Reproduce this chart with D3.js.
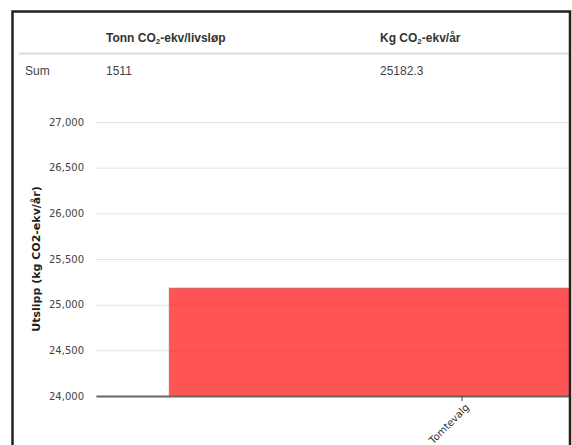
<!DOCTYPE html>
<html>
<head>
<meta charset="utf-8">
<title>Utslipp</title>
<style>
body { margin: 0; background: #fff; }
.grid .domain { stroke: none; }
.grid .tick line { stroke: #e3e3e3; stroke-width: 1px; }
.grid .tick text { fill: #444; font-family: "DejaVu Sans", Verdana, sans-serif; font-size: 10px; }
.axis--x .domain { stroke: #666; stroke-width: 2px; }
.axis--x .tick line { stroke: #444; }
.axis--x .tick text { fill: #333; font-family: "DejaVu Sans", Verdana, sans-serif; font-size: 10px; }
.tbl { font-family: "Liberation Sans", Arial, sans-serif; font-size: 12px; }
</style>
</head>
<body>
<script src="https://d3js.org/d3.v7.min.js"></script>
<script>

// Data
var categories = ["Tomtevalg"];
var values = [25182.3];
var yTicks = [24000, 24500, 25000, 25500, 26000, 26500, 27000];
var yTitle = "Utslipp (kg CO2-ekv/år)";

// table: header cells split around the subscript
var tableHeaders = [["Tonn CO", "2", "-ekv/livsløp"], ["Kg CO", "2", "-ekv/år"]];
var tableRowLabel = "Sum";
var tableRow = ["1511", "25182.3"];

var W = 572, H = 445;

var svg = d3.select("body").append("svg")
    .attr("width", W)
    .attr("height", H);

svg.append("defs").append("clipPath")
    .attr("id", "inner")
    .append("rect")
    .attr("x", 13).attr("y", 12)
    .attr("width", 556).attr("height", H - 12);

var inner = svg.append("g").attr("clip-path", "url(#inner)");

// Table
var colX = [106, 380];
var tbl = inner.append("g").attr("class", "tbl");

tableHeaders.forEach(function(h, i) {
    var t = tbl.append("text")
        .attr("x", colX[i]).attr("y", 42)
        .attr("fill", "#333")
        .attr("font-weight", "bold");
    t.append("tspan").text(h[0]);
    t.append("tspan").attr("font-size", "8px").attr("dy", 2).text(h[1]);
    t.append("tspan").attr("dy", -2).text(h[2]);
});

tbl.append("line")
    .attr("x1", 19).attr("x2", W)
    .attr("y1", 53.5).attr("y2", 53.5)
    .attr("stroke", "#dcdcdc")
    .attr("stroke-width", 2);

tbl.append("text")
    .attr("x", 25).attr("y", 75)
    .attr("fill", "#444")
    .text(tableRowLabel);

tableRow.forEach(function(v, i) {
    tbl.append("text")
        .attr("x", colX[i]).attr("y", 75)
        .attr("fill", "#444")
        .text(v);
});

// Chart
var plotLeft = 96, plotRight = 828, plotTop = 122, plotBottom = 396;

var y = d3.scaleLinear()
    .domain([d3.min(yTicks), d3.max(yTicks)])
    .range([plotBottom, plotTop]);

var x = d3.scaleBand()
    .domain(categories)
    .range([plotLeft, plotRight])
    .paddingInner(0.2)
    .paddingOuter(0.1);

inner.append("g")
    .attr("class", "grid")
    .attr("transform", "translate(" + plotLeft + ",0)")
    .call(d3.axisLeft(y)
        .tickValues(yTicks)
        .tickSize(-(plotRight - plotLeft))
        .tickPadding(12)
        .tickFormat(d3.format(",")));

inner.selectAll(".bar")
    .data(values)
    .enter().append("rect")
    .attr("class", "bar")
    .attr("x", function(d, i) { return x(categories[i]); })
    .attr("y", function(d) { return y(d); })
    .attr("width", x.bandwidth())
    .attr("height", function(d) { return y.range()[0] - y(d); })
    .attr("fill", "#ff0000")
    .attr("fill-opacity", 0.67)
    .attr("stroke", "#777")
    .attr("stroke-opacity", 0.5);

var xAxis = inner.append("g")
    .attr("class", "axis--x")
    .attr("transform", "translate(0," + plotBottom + ")")
    .call(d3.axisBottom(x).tickSizeInner(5).tickSizeOuter(0));

xAxis.selectAll(".tick text")
    .attr("text-anchor", "end")
    .attr("dx", "-0.3em")
    .attr("dy", "0.6em")
    .attr("transform", "rotate(-45)");

// Y axis title
inner.append("text")
    .attr("transform", "translate(40," + ((plotTop + plotBottom) / 2) + ") rotate(-90)")
    .attr("text-anchor", "middle")
    .attr("font-family", "DejaVu Sans, Verdana, sans-serif")
    .attr("font-size", "11px")
    .attr("font-weight", "bold")
    .attr("fill", "#222")
    .text(yTitle);

// Frame
svg.append("path")
    .attr("d", "M12.5," + H + "V11.5H570V" + H)
    .attr("fill", "none")
    .attr("stroke", "#222")
    .attr("stroke-width", 2.5);

</script>
</body>
</html>
